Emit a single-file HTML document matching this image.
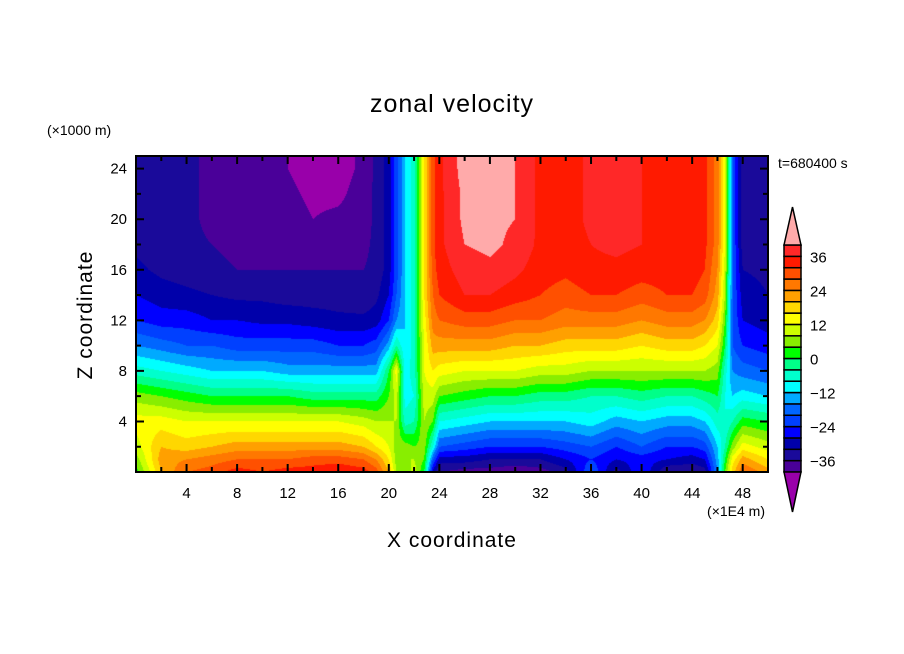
<!DOCTYPE html>
<html><head><meta charset="utf-8">
<style>
html,body{margin:0;padding:0;background:#fff;}
#wrap{position:relative;width:904px;height:654px;overflow:hidden;font-family:"Liberation Sans",sans-serif;}
svg text{font-family:"Liberation Sans",sans-serif;fill:#000;}
</style></head>
<body>
<div id="wrap">
<canvas id="field" width="632" height="316" style="position:absolute;left:136px;top:156px;"></canvas>
<svg id="svg" width="904" height="654" style="position:absolute;left:0;top:0;"></svg>
</div>
<script>
// ---- data ----
const xCoords = [0,2,4,6,8,10,12,14,16,18,19,20,20.6,21.3,22,22.8,23.5,24,26,28,30,32,34,36,38,40,42,44,45,46,46.6,47.2,48,50];
const zCoords = [0,1,2,4,6,8,10,12,14,16,18,20,22,24,25];
// each entry: vertical profile of zonal velocity at xCoords[i], at zCoords levels
const uProfiles = [
[2,6,10,14,6,-6,-16,-24,-28,-31,-33,-33,-33,-33,-33],
[20,22,20,14,4,-8,-18,-26,-30,-33,-34,-34,-34,-34,-34],
[28,24,18,12,2,-10,-20,-26,-31,-34,-35,-35,-35,-35,-35],
[30,26,20,12,0,-12,-20,-28,-32,-35,-36,-37,-37,-37,-37],
[34,28,22,12,0,-12,-22,-28,-33,-36,-37,-38,-38,-38,-38],
[32,28,22,12,0,-12,-22,-29,-33,-36,-37,-38,-38,-38,-38],
[34,28,22,12,0,-14,-22,-29,-34,-36,-37,-38,-39,-40,-40],
[34,30,22,12,-2,-14,-22,-30,-34,-36,-38,-40,-41,-42,-42],
[36,30,22,12,-2,-14,-24,-31,-34,-36,-38,-39,-41,-42,-42],
[34,28,20,10,-2,-14,-24,-31,-35,-36,-37,-38,-38,-39,-39],
[30,24,16,8,-2,-14,-22,-30,-33,-35,-35,-35,-35,-35,-35],
[20,16,12,8,4,0,-14,-24,-28,-30,-30,-30,-30,-30,-30],
[8,6,6,8,10,14,-4,-16,-20,-22,-22,-22,-22,-22,-22],
[4,8,6,-6,-10,-10,-12,-12,-12,-12,-12,-12,-12,-12,-12],
[10,8,4,-4,-8,-6,-6,-6,-6,-6,-6,-6,-6,-6,-6],
[0,4,6,8,10,12,12,14,16,16,16,16,16,16,16],
[-30,-20,-8,4,10,16,22,26,28,30,31,31,31,31,31],
[-36,-30,-20,-8,4,14,22,28,32,34,35,35,35,35,35],
[-38,-30,-22,-10,2,12,22,30,36,38,40,41,41,42,42],
[-38,-32,-24,-12,0,12,22,30,36,39,41,41,41,42,42],
[-40,-32,-24,-12,0,12,20,28,34,37,39,40,40,40,40],
[-38,-32,-24,-12,-2,10,20,28,32,34,35,35,35,35,35],
[-34,-28,-22,-12,-2,10,18,26,30,33,34,34,34,34,34],
[-20,-24,-20,-10,-4,8,18,26,32,35,36,37,37,37,37],
[-34,-28,-24,-14,-4,8,18,26,32,35,37,37,37,37,37],
[-24,-26,-20,-12,-2,8,16,24,30,34,36,36,36,36,36],
[-36,-28,-24,-14,-4,8,18,26,32,34,35,35,35,35,35],
[-36,-30,-24,-14,-4,8,18,26,32,34,35,35,35,35,35],
[-34,-28,-22,-12,-2,8,16,24,30,32,33,33,33,33,33],
[-16,-14,-12,-6,0,6,12,18,22,24,26,26,26,26,26],
[4,0,-4,-8,-8,-6,0,4,8,10,12,12,12,12,12],
[18,14,6,-4,-12,-16,-20,-20,-20,-20,-20,-20,-20,-20,-20],
[28,22,14,2,-10,-18,-24,-28,-30,-32,-34,-34,-34,-34,-34],
[22,16,10,0,-12,-20,-26,-30,-32,-33,-34,-34,-34,-34,-34]
];
const levelMin = -40, levelStep = 4;
const bandColors = ["#4a0099","#1a0a9a","#0000aa","#0000ff","#0040ff","#0066ff","#00aaff","#00ffff","#00ffcc","#00ff88",
  "#00ff00","#88ee00","#ccff00","#ffff00","#ffd700","#ffa000","#ff7800","#ff5000","#ff1a00","#ff2828"];
const overColor = "#ffaaaa", underColor = "#9900aa";
const xTicks = [4,8,12,16,20,24,28,32,36,40,44,48];
const zTicks = [4,8,12,16,20,24];
const cbLabels = [36,24,12,0,-12,-24,-36];

// ---- axes ----
const PX0=136, PX1=768, PY0=156, PY1=472, XMAX=50, ZMAX=25;
const xs = v => PX0 + v/XMAX*(PX1-PX0);
const zs = v => PY1 - v/ZMAX*(PY1-PY0);
function colorFor(v){
  if (v >= levelMin + levelStep*bandColors.length) return overColor;
  if (v < levelMin) return underColor;
  return bandColors[Math.floor((v-levelMin)/levelStep)];
}
function hex(c){return [parseInt(c.substr(1,2),16),parseInt(c.substr(3,2),16),parseInt(c.substr(5,2),16)];}
function seg(arr,v){let i=0;while(i<arr.length-2&&arr[i+1]<v)i++;const t=(v-arr[i])/(arr[i+1]-arr[i]);return [i,Math.max(0,Math.min(1,t))];}
function sample(x,z){
  const [i,tx]=seg(xCoords,x),[j,tz]=seg(zCoords,z);
  const a=uProfiles[i][j],b=uProfiles[i+1][j],c=uProfiles[i][j+1],d=uProfiles[i+1][j+1];
  return (a*(1-tx)+b*tx)*(1-tz)+(c*(1-tx)+d*tx)*tz;
}
// ---- draw field ----
const cv=document.getElementById('field'),ctx=cv.getContext('2d');
const W=cv.width,H=cv.height,img=ctx.createImageData(W,H);
const cache={};
for(let py=0;py<H;py++){for(let px=0;px<W;px++){
  const x=(px+0.5)/W*XMAX, z=(H-py-0.5)/H*ZMAX;
  const col=colorFor(sample(x,z)); const rgb=cache[col]||(cache[col]=hex(col));
  const k=(py*W+px)*4; img.data[k]=rgb[0];img.data[k+1]=rgb[1];img.data[k+2]=rgb[2];img.data[k+3]=255;
}}
ctx.putImageData(img,0,0);

// ---- svg overlay ----
const NS="http://www.w3.org/2000/svg", svg=document.getElementById('svg');
function mk(tag,attrs,txt){const e=document.createElementNS(NS,tag);for(const k in attrs)e.setAttribute(k,attrs[k]);if(txt!==undefined)e.textContent=txt;svg.appendChild(e);return e;}
let e;
e=mk('rect',{x:PX0,y:PY0,width:PX1-PX0,height:PY1-PY0,fill:'none',stroke:'#000','stroke-width':2});


for(let v=2;v<XMAX;v+=2){const L=(v%4===0)?8:5;
  e=mk('path',{d:`M${xs(v)},${PY1}v${-L}M${xs(v)},${PY0}v${L}`,stroke:'#000','stroke-width':2});
  
  }
for(let v=2;v<ZMAX;v+=2){const L=(v%4===0)?8:5;
  e=mk('path',{d:`M${PX0},${zs(v)}h${L}M${PX1},${zs(v)}h${-L}`,stroke:'#000','stroke-width':2});
  
  }
xTicks.forEach(v=>{e=mk('text',{x:xs(v),y:498,'font-size':15,'text-anchor':'middle'},v);
  
  });
zTicks.forEach(v=>{e=mk('text',{x:127,y:zs(v)+5,'font-size':15,'text-anchor':'end'},v);
  
  });
e=mk('text',{x:452,y:112,'font-size':25,'text-anchor':'middle','letter-spacing':1},'zonal velocity');


e=mk('text',{x:47,y:135,'font-size':14},'(×1000 m)');


e=mk('text',{x:778,y:168,'font-size':14},'t=680400 s');


e=mk('text',{x:765,y:516,'font-size':14,'text-anchor':'end'},'(×1E4 m)');


e=mk('text',{x:452,y:547,'font-size':21,'text-anchor':'middle','letter-spacing':1},'X coordinate');


e=mk('text',{x:0,y:0,'font-size':21,'text-anchor':'middle','letter-spacing':1,transform:'translate(92,315) rotate(-90)'},'Z coordinate');


// colorbar
const CBX=784,CBW=17,CBT=245,CBB=472,nb=bandColors.length,bh=(CBB-CBT)/nb;
const cbY = v => CBB-(v-levelMin)/(levelStep*nb)*(CBB-CBT);
bandColors.forEach((c,i)=>{e=mk('rect',{x:CBX,y:CBB-(i+1)*bh,width:CBW,height:bh,fill:c,stroke:'#000','stroke-width':1.5});
  
  });
e=mk('path',{d:`M${CBX},${CBT}L${CBX+CBW/2},207L${CBX+CBW},${CBT}Z`,fill:overColor,stroke:'#000','stroke-width':1.5});


e=mk('path',{d:`M${CBX},${CBB}L${CBX+CBW/2},512L${CBX+CBW},${CBB}Z`,fill:underColor,stroke:'#000','stroke-width':1.5});


cbLabels.forEach(v=>{e=mk('text',{x:810,y:cbY(v)+6,'font-size':15},v<0?'\u2212'+(-v):v);
  
  });
</script>
</body></html>
